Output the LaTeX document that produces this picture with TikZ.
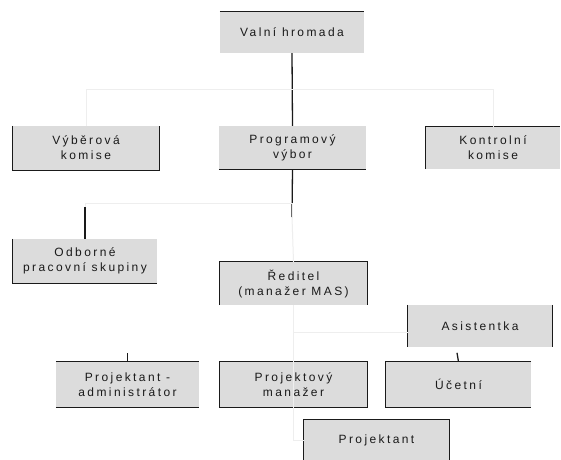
\documentclass[tikz,border=0pt]{standalone}
\usepackage{fontspec}
\setmainfont{Liberation Sans}
\newfontfamily\boxfont[LetterSpace=20]{Liberation Sans}
\definecolor{boxgray}{HTML}{DCDCDC}
\definecolor{faint}{HTML}{EEEEEE}
\definecolor{ink}{HTML}{1A1A1A}
\begin{document}
\begin{tikzpicture}[x=1pt,y=-1pt,
  orgbox/.style={fill=boxgray,inner sep=0pt,align=center,
    font=\boxfont\fontsize{12}{15}\selectfont,text=ink},
  edge/.style={line width=1.3pt,ink},
  faintline/.style={line width=1pt,faint}]
\useasboundingbox (0,0) rectangle (561,459);
\clip (0,0) rectangle (561,459);
\fill[white] (0,0) rectangle (561,459);

\node[orgbox,minimum width=144pt,minimum height=41pt] (vh) at (292,32.5) {Valní hromada};
\node[orgbox,minimum width=146pt,minimum height=44pt] (vk) at (86,148) {Výběrová\\komise};
\node[orgbox,minimum width=147pt,minimum height=43pt] (pv) at (292.5,147.5) {Programový\\výbor};
\node[orgbox,minimum width=134pt,minimum height=42pt] (kk) at (493,148) {Kontrolní\\komise};
\node[orgbox,minimum width=144pt,minimum height=44pt] (ob) at (85,261) {Odborné\\pracovní skupiny};
\node[orgbox,minimum width=147pt,minimum height=43pt] (rd) at (293.5,283.5) {Ředitel\\(manažer MAS)};
\node[orgbox,minimum width=144pt,minimum height=42pt] (as) at (480,326) {Asistentka};
\node[orgbox,minimum width=143pt,minimum height=45pt] (pa) at (127.5,384.5) {Projektant -\\administrátor};
\node[orgbox,minimum width=147pt,minimum height=45pt] (pm) at (293.5,384.5) {Projektový\\manažer};
\node[orgbox,minimum width=145pt,minimum height=45pt] (uc) at (458.5,384.5) {Účetní};
\node[orgbox,minimum width=145pt,minimum height=40pt] (pr) at (376.5,440) {Projektant};

% partial borders
\draw[edge] (vh.north west) -- (vh.north east);
\draw[edge] (vk.north west) -- (vk.south west) -- (vk.south east) -- (vk.north east);
\draw[edge] (pv.south west) -- (pv.south east);
\draw[edge] (kk.south west) -- (kk.north west) -- (kk.north east);
\draw[edge] (ob.north west) -- (ob.south west) -- (ob.south east);
\draw[edge] (rd.south west) -- (rd.north west) -- (rd.north east) -- (rd.south east);
\draw[edge] (as.north west) -- (as.south west);
\draw[edge] (as.north east) -- (as.south east);
\draw[edge] (pa.north west) -- (pa.north east);
\draw[edge] (pa.south west) -- (pa.south east);
\draw[edge] (pm.north west) rectangle (pm.south east);
\draw[edge] (uc.north east) -- (uc.north west) -- (uc.south west) -- (uc.south east);
\draw[edge] (pr.south west) -- (pr.north west) -- (pr.north east) -- (pr.south east);

% connectors
\coordinate (j1) at (292,217);
\coordinate (j2) at (85,207);
\draw[edge] (vh.south) -- (pv.north);
\draw[faintline] (vk.north) -- ++(0,-36) -| (kk.north);
\draw[edge] (pv.south) -- (j1);
\draw[faintline] (j1) |- (85,203) -- (j2);
\draw[edge] (j2) -- (j2 |- ob.north);
\draw[faintline] (j1) -- (rd.north);
\draw[faintline] (rd.south) |- (pr.west);
\draw[faintline] (rd.south |- 0,332) -- (as.west |- 0,332);
\draw[edge] (pa.north) -- ++(0,-9);
\draw[edge] (uc.north) -- ++(-1.5,-9);
\end{tikzpicture}
\end{document}
